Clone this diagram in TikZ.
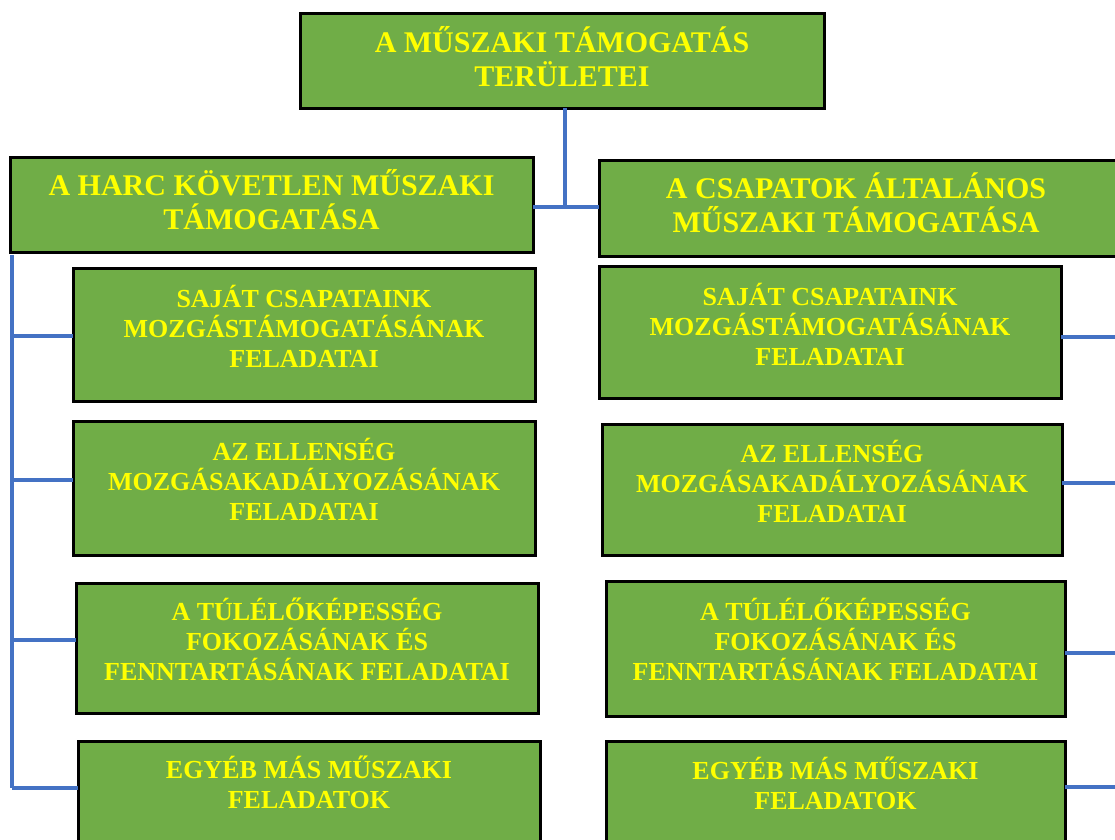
\documentclass[tikz,border=0pt]{standalone}
\usepackage{fontspec}
\setmainfont{Liberation Serif}
\definecolor{boxgreen}{HTML}{70AD47}
\definecolor{linkblue}{HTML}{4472C4}
\definecolor{txtyellow}{HTML}{FFFF00}
\begin{document}
\begin{tikzpicture}[x=1pt,y=-1pt,
  box/.style={draw=black, line width=3pt, fill=boxgreen, inner sep=0pt, outer sep=0pt},
  head/.style={text=txtyellow, align=center, font=\bfseries\fontsize{30}{34}\selectfont, inner sep=0pt},
  sub/.style={text=txtyellow, align=center, font=\bfseries\fontsize{26}{30}\selectfont, inner sep=0pt},
  link/.style={draw=linkblue, line width=4pt}]
\useasboundingbox (0,0) rectangle (1115,839);
\clip (0,0) rectangle (1115,839);

% top and second level boxes
\node[box, minimum width=524, minimum height=95] (top) at (562,60.5) {};
\node[box, minimum width=523, minimum height=95] (L) at (271.5,204.5) {};
\node[box, minimum width=526, minimum height=96] (R) at (862,208) {};

% left column
\node[box, minimum width=462, minimum height=133] (LC1) at (304,334.5) {};
\node[box, minimum width=462, minimum height=134] (LC2) at (304,488) {};
\node[box, minimum width=462, minimum height=130] (LC3) at (307,648) {};
\node[box, minimum width=462, minimum height=139] (LC4) at (309,810.5) {};

% right column
\node[box, minimum width=462, minimum height=132] (RC1) at (830,332) {};
\node[box, minimum width=460, minimum height=131] (RC2) at (832,489.5) {};
\node[box, minimum width=459, minimum height=135] (RC3) at (835.5,648.5) {};
\node[box, minimum width=459, minimum height=139] (RC4) at (835.5,810.5) {};

% texts
\node[head] (topT) at (562,57) {A MŰSZAKI TÁMOGATÁS\\TERÜLETEI};
\node[head] (LT) at (271.5,200) {A HARC KÖVETLEN MŰSZAKI\\TÁMOGATÁSA};
\node[head] (RT) at (856,203) {A CSAPATOK ÁLTALÁNOS\\MŰSZAKI TÁMOGATÁSA};

\node[sub] (LC1T) at (304,326) {SAJÁT CSAPATAINK\\MOZGÁSTÁMOGATÁSÁNAK\\FELADATAI};
\node[sub] (LC2T) at (304,479) {AZ ELLENSÉG\\MOZGÁSAKADÁLYOZÁSÁNAK\\FELADATAI};
\node[sub] (LC3T) at (307,639) {A TÚLÉLŐKÉPESSÉG\\FOKOZÁSÁNAK ÉS\\FENNTARTÁSÁNAK FELADATAI};
\node[sub] (LC4T) at (309,782) {EGYÉB MÁS MŰSZAKI\\FELADATOK};

\node[sub] (RC1T) at (830,324) {SAJÁT CSAPATAINK\\MOZGÁSTÁMOGATÁSÁNAK\\FELADATAI};
\node[sub] (RC2T) at (832,481) {AZ ELLENSÉG\\MOZGÁSAKADÁLYOZÁSÁNAK\\FELADATAI};
\node[sub] (RC3T) at (835.5,639) {A TÚLÉLŐKÉPESSÉG\\FOKOZÁSÁNAK ÉS\\FENNTARTÁSÁNAK FELADATAI};
\node[sub] (RC4T) at (835.5,783) {EGYÉB MÁS MŰSZAKI\\FELADATOK};

% junction under the top box
\coordinate (j) at (565,207);
\draw[link] (top.south -| j) -- (j);
\draw[link] (L.east |- j) -- (R.west |- j);

% left spine and its branches
\coordinate (s0) at (12,255);
\coordinate (s1) at (12,336);
\coordinate (s2) at (12,480);
\coordinate (s3) at (12,640);
\coordinate (s4) at (12,788);
\draw[link] (s0) -- (s4);
\draw[link] (s1) -- (s1 -| LC1.west);
\draw[link] (s2) -- (s2 -| LC2.west);
\draw[link] (s3) -- (s3 -| LC3.west);
\draw[link] (s4) -- (s4 -| LC4.west);

% right branches leaving the page edge
\coordinate (r1) at (1120,337);
\coordinate (r2) at (1120,483);
\coordinate (r3) at (1120,653);
\coordinate (r4) at (1120,787);
\draw[link] (RC1.east |- r1) -- (r1);
\draw[link] (RC2.east |- r2) -- (r2);
\draw[link] (RC3.east |- r3) -- (r3);
\draw[link] (RC4.east |- r4) -- (r4);
\end{tikzpicture}
\end{document}
